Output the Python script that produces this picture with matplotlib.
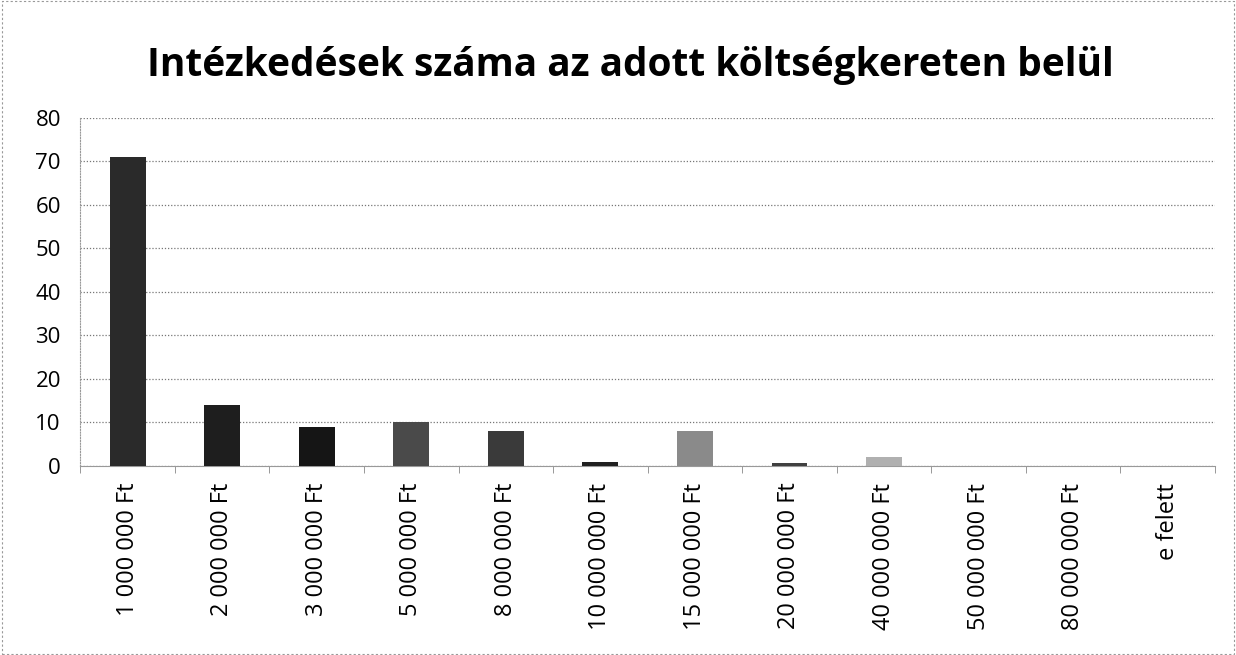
import matplotlib
matplotlib.use("Agg")
import matplotlib.pyplot as plt
import numpy as np

# Adatok (értékek)
kategoriak = ["1 000 000 Ft", "2 000 000 Ft", "3 000 000 Ft", "5 000 000 Ft",
              "8 000 000 Ft", "10 000 000 Ft", "15 000 000 Ft", "20 000 000 Ft",
              "40 000 000 Ft", "50 000 000 Ft", "80 000 000 Ft", "e felett"]
ertekek = [71, 14, 9, 10, 8, 1, 8, 0.6, 2, 0, 0, 0]
oszlop_szinek = ["#2a2a2a", "#1e1e1e", "#151515", "#4a4a4a", "#3a3a3a", "#202020",
                 "#8a8a8a", "#404040", "#b0b0b0", "#555555", "#555555", "#555555"]

plt.rcParams['font.family'] = ['Open Sans', 'DejaVu Sans']

fig = plt.figure(figsize=(12.36, 6.55), dpi=100)
ax = fig.add_axes([0.065, 0.2885, 0.918, 0.532])

x = np.arange(len(kategoriak))
ax.bar(x, ertekek, width=0.38, color=oszlop_szinek, zorder=3)

ax.set_ylim(0, 80)
ax.set_xlim(-0.5, len(kategoriak) - 0.5)
ax.set_yticks(range(0, 81, 10))
ax.yaxis.grid(True, color="#777777", linestyle=(0, (1, 1.5)), linewidth=0.9, zorder=0)

ax.set_xticks(x)
ax.set_xticklabels(kategoriak, rotation=90, fontsize=17, va="top")
ax.tick_params(axis="x", length=0, pad=12)
ax.set_xticks(np.arange(-0.5, len(kategoriak), 1), minor=True)
ax.tick_params(axis="x", which="minor", length=5, color="#888888")
ax.tick_params(axis="y", labelsize=16, length=0, pad=14)

for s in ["top", "right"]:
    ax.spines[s].set_visible(False)
ax.spines["left"].set_color("#999999")
ax.spines["left"].set_linestyle((0, (1, 1.5)))
ax.spines["bottom"].set_color("#999999")

fig.text(0.51, 0.9, "Intézkedések száma az adott költségkereten belül",
         ha="center", va="center", fontsize=28, fontweight="bold")

# keret a kép körül
fig.patches.append(plt.Rectangle((0.002, 0.002), 0.996, 0.996, transform=fig.transFigure,
                                 fill=False, edgecolor="#999999", linestyle=(0, (2, 2)),
                                 linewidth=0.8))

fig.savefig("out.png", dpi=100)
